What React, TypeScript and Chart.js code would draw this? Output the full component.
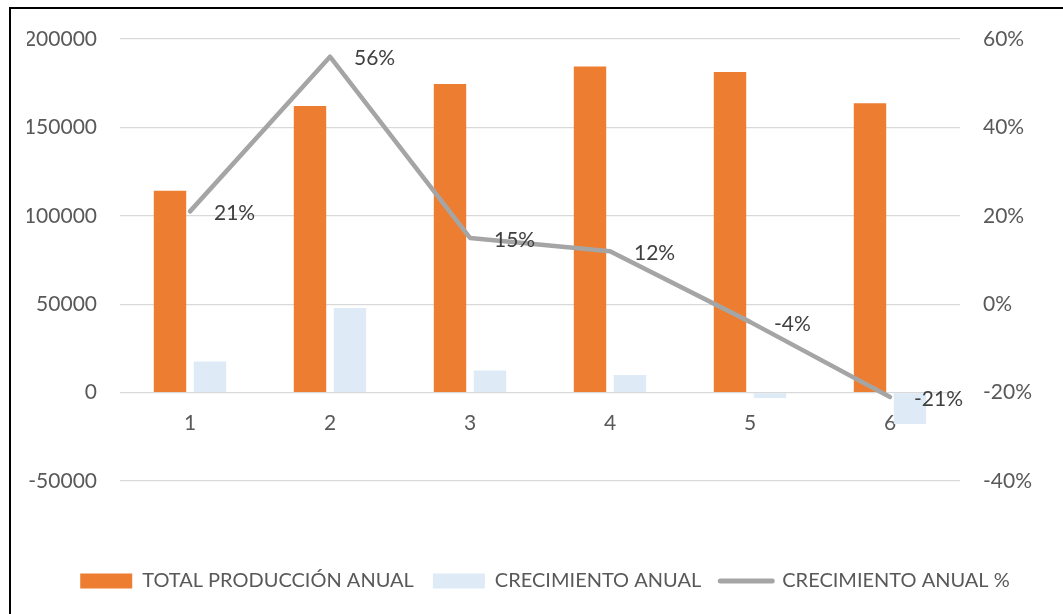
import React, { useEffect, useRef } from "react";
import { Chart, registerables } from "chart.js";

Chart.register(...registerables);

// Years on the category axis
const categories = ["1", "2", "3", "4", "5", "6"];
// Annual production totals (left axis)
const totalProduccion = [114200, 162100, 174600, 184500, 181400, 163600];
// Year-over-year change in production (left axis)
const crecimiento = [17600, 47900, 12500, 9900, -3100, -17800];
// Year-over-year change in percent (right axis)
const crecimientoPct = [21, 56, 15, 12, -4, -21];

const seriesNames = ["TOTAL PRODUCCIÓN ANUAL", "CRECIMIENTO ANUAL", "CRECIMIENTO ANUAL %"];

const FONT = "Lato";
const TICK_COLOR = "#595959";
const LABEL_COLOR = "#404040";

// Draws the percentage next to each point of the line series
const pctLabels = {
  id: "pctLabels",
  afterDatasetsDraw(chart: any) {
    const meta = chart.getDatasetMeta(2);
    const ctx = chart.ctx;
    ctx.save();
    ctx.font = `21px ${FONT}`;
    ctx.fillStyle = LABEL_COLOR;
    ctx.textAlign = "left";
    ctx.textBaseline = "middle";
    meta.data.forEach((pt: any, i: number) => {
      ctx.fillText(`${crecimientoPct[i]}%`, pt.x + 24, pt.y + 2);
    });
    ctx.restore();
  },
};

export default function App() {
  const canvasRef = useRef<HTMLCanvasElement | null>(null);

  useEffect(() => {
    document.documentElement.style.overflow = "hidden";
    document.body.style.overflow = "hidden";
    const canvas = canvasRef.current;
    if (!canvas) return;

    const chart = new Chart(canvas, {
      type: "bar",
      data: {
        labels: categories,
        datasets: [
          {
            type: "bar",
            label: seriesNames[0],
            data: totalProduccion,
            backgroundColor: "#ED7D31",
            borderWidth: 0,
            yAxisID: "y",
            xAxisID: "x",
            order: 1,
            categoryPercentage: 0.5714,
            barPercentage: 0.81,
          },
          {
            type: "bar",
            label: seriesNames[1],
            data: crecimiento,
            backgroundColor: "#DEEBF7",
            borderWidth: 0,
            yAxisID: "y",
            xAxisID: "x",
            order: 1,
            categoryPercentage: 0.5714,
            barPercentage: 0.81,
          },
          {
            type: "line",
            label: seriesNames[2],
            data: crecimientoPct,
            borderColor: "#A5A5A5",
            backgroundColor: "#A5A5A5",
            borderWidth: 4.5,
            borderCapStyle: "round",
            borderJoinStyle: "round",
            pointRadius: 0,
            tension: 0,
            yAxisID: "y1",
            xAxisID: "x",
            order: 0,
          },
        ] as any,
      },
      options: {
        responsive: false,
        animation: false,
        devicePixelRatio: 1,
        layout: { padding: { left: 27, right: 0, top: 39, bottom: 13 } },
        plugins: {
          tooltip: { enabled: false },
          legend: {
            position: "bottom",
            labels: {
              usePointStyle: true,
              pointStyleWidth: 52,
              boxHeight: 15,
              padding: 19,
              color: TICK_COLOR,
              font: { family: FONT, size: 20 },
              generateLabels: (c: any) =>
                c.data.datasets.map((ds: any, i: number) => ({
                  text: ds.label,
                  fillStyle: ds.backgroundColor,
                  strokeStyle: ds.type === "line" ? ds.borderColor : ds.backgroundColor,
                  lineWidth: ds.type === "line" ? 5 : 0,
                  lineCap: "round",
                  pointStyle: ds.type === "line" ? "line" : "rect",
                  fontColor: TICK_COLOR,
                  hidden: false,
                  datasetIndex: i,
                })),
            },
          },
        },
        scales: {
          x: {
            type: "category",
            position: { y: 0 } as any,
            offset: true,
            grid: { display: false, drawTicks: false },
            border: { display: false },
            ticks: {
              color: TICK_COLOR,
              font: { family: FONT, size: 21 },
              padding: 18,
              maxRotation: 0,
            },
          },
          spacer: {
            type: "category",
            position: "bottom",
            grid: { display: false, drawTicks: false },
            border: { display: false },
            ticks: { display: false },
            afterFit: (s: any) => {
              s.height = 71;
            },
          },
          y: {
            type: "linear",
            position: "left",
            min: -50000,
            max: 200000,
            grid: { color: "#D9D9D9", lineWidth: 1.3, drawTicks: false },
            border: { display: false },
            ticks: {
              stepSize: 50000,
              color: TICK_COLOR,
              font: { family: FONT, size: 21 },
              padding: 23,
              callback: (v: any) => String(v),
            },
            afterFit: (s: any) => {
              s.width = 93;
            },
          },
          y1: {
            type: "linear",
            position: "right",
            min: -40,
            max: 60,
            grid: { display: false, drawTicks: false },
            border: { display: false },
            ticks: {
              stepSize: 20,
              color: TICK_COLOR,
              font: { family: FONT, size: 21 },
              padding: 23,
              callback: (v: any) => `${Math.round(Number(v))}%`,
            },
            afterFit: (s: any) => {
              s.width = 103;
            },
          },
        } as any,
      },
      plugins: [pctLabels],
    });

    return () => chart.destroy();
  }, []);

  return (
    <div
      style={{
        position: "fixed",
        left: 0,
        top: 0,
        width: 1063,
        height: 614,
        overflow: "hidden",
        background: "#fff",
      }}
    >
      <div
        style={{
          position: "absolute",
          left: 9,
          top: 7,
          width: 1100,
          height: 700,
          borderLeft: "2px solid #000",
          borderTop: "2px solid #000",
        }}
      />
      <canvas
        ref={canvasRef}
        width={1063}
        height={614}
        style={{ position: "absolute", left: 0, top: 0, width: 1063, height: 614 }}
      />
    </div>
  );
}
